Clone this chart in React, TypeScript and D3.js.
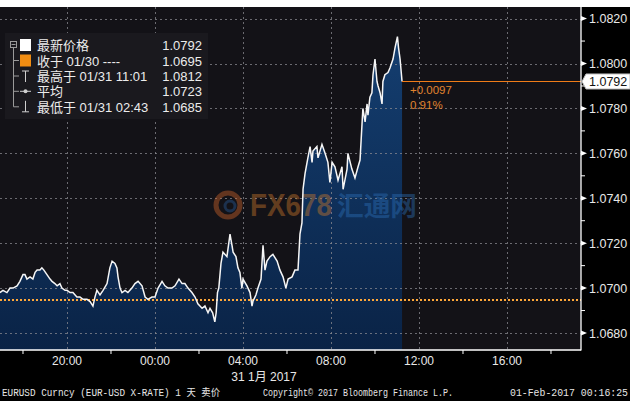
import React from "react";
import * as d3 from "d3";

// ---- data (hours since 2017-01-30 00:00, EURUSD price) ----
const hours = [
  16.95, 17.09, 17.27, 17.41, 17.55, 17.73, 17.86, 18.0, 18.09, 18.18, 18.32, 18.45, 18.55, 18.64, 18.77, 18.86,
  18.95, 19.09, 19.23, 19.32, 19.45, 19.55, 19.68, 19.77, 19.91, 20.0, 20.14, 20.27, 20.45, 20.59, 20.73, 20.91,
  21.05, 21.18, 21.27, 21.36, 21.5, 21.64, 21.82, 21.95, 22.05, 22.18, 22.27, 22.32, 22.41, 22.5, 22.64, 22.77,
  22.95, 23.09, 23.23, 23.41, 23.55, 23.68, 23.86, 24.0, 24.14, 24.32, 24.45, 24.59, 24.77, 24.91, 25.09, 25.23,
  25.36, 25.5, 25.68, 25.82, 25.95, 26.14, 26.27, 26.41, 26.5, 26.62, 26.72, 26.78, 26.84, 26.9, 27.0, 27.09,
  27.27, 27.41, 27.5, 27.55, 27.68, 27.77, 27.86, 27.95, 28.0, 28.18, 28.32, 28.41, 28.45, 28.59, 28.68, 28.82,
  28.91, 29.0, 29.09, 29.23, 29.36, 29.55, 29.68, 29.82, 29.95, 30.05, 30.23, 30.36, 30.5, 30.59, 30.68, 30.73,
  30.82, 30.95, 31.05, 31.14, 31.18, 31.36, 31.41, 31.59, 31.73, 31.86, 31.95, 32.05, 32.18, 32.32, 32.5, 32.55,
  32.73, 32.77, 32.95, 33.09, 33.23, 33.32, 33.41, 33.45, 33.55, 33.64, 33.68, 33.77, 33.86, 33.91, 34.0, 34.09,
  34.14, 34.23, 34.32, 34.36, 34.45, 34.59, 34.68, 34.82, 34.91, 35.02, 35.07, 35.14, 35.23,
];
const prices = [
  1.0698, 1.0699, 1.0698, 1.07, 1.07, 1.0701, 1.0703, 1.0706, 1.0706, 1.0704, 1.0705, 1.0704, 1.0707, 1.0708, 1.0708, 1.0709,
  1.0708, 1.0706, 1.0704, 1.0703, 1.0702, 1.0701, 1.0702, 1.07, 1.0699, 1.0699, 1.0698, 1.0698, 1.0696, 1.0696, 1.0695, 1.0695,
  1.0694, 1.0692, 1.0696, 1.0699, 1.0697, 1.0699, 1.0702, 1.0709, 1.0712, 1.0711, 1.0709, 1.0705, 1.07, 1.0698, 1.0699, 1.0698,
  1.07, 1.0702, 1.0703, 1.0701, 1.0696, 1.0695, 1.0696, 1.0696, 1.07, 1.0703, 1.0701, 1.07, 1.07, 1.0701, 1.0704, 1.0702,
  1.0702, 1.07, 1.0698, 1.0696, 1.0693, 1.0691, 1.0692, 1.0689, 1.0691, 1.0689, 1.0685, 1.0689, 1.0698, 1.07, 1.0711, 1.0716,
  1.0714, 1.0724, 1.0719, 1.0716, 1.0714, 1.0709, 1.0707, 1.07, 1.0704, 1.0701, 1.0698, 1.0692, 1.0694, 1.0697, 1.07, 1.0704,
  1.0719, 1.0708, 1.0712, 1.0714, 1.0715, 1.0712, 1.0708, 1.0705, 1.07, 1.0704, 1.0705, 1.0708, 1.0708, 1.0724, 1.0729, 1.0744,
  1.0751, 1.0758, 1.0763, 1.0756, 1.0761, 1.0763, 1.0758, 1.0764, 1.076, 1.0756, 1.0747, 1.0756, 1.0754, 1.0748, 1.0754, 1.0744,
  1.0753, 1.076, 1.0753, 1.0749, 1.0754, 1.0757, 1.0773, 1.078, 1.0774, 1.0782, 1.0777, 1.0785, 1.0787, 1.0795, 1.0802, 1.0792,
  1.079, 1.0787, 1.0782, 1.0792, 1.0795, 1.0796, 1.0798, 1.0802, 1.0807, 1.0812, 1.0807, 1.0802, 1.0792,
];

const yTickValues = [1.068, 1.07, 1.072, 1.074, 1.076, 1.078, 1.08, 1.082];
const yMinorValues = [1.069, 1.071, 1.073, 1.075, 1.077, 1.079, 1.081];
const domainHours = [16.955, 43.364];
const lastPrice = 1.0792;
const prevClose = 1.0695;
const changeText = ["+0.0097", "0.91%"];

const legendLabels = ["最新价格", "收于 01/30 ----", "最高于 01/31 11:01", "平均", "最低于 01/31 02:43"];
const legendValues = ["1.0792", "1.0695", "1.0812", "1.0723", "1.0685"];

const dateLabel = "31 1月 2017";
const footerLeft = "EURUSD Curncy (EUR-USD X-RATE) 1 天  卖价";
const footerMid = "Copyright© 2017 Bloomberg Finance L.P.";
const footerRight = "01-Feb-2017 00:16:25";

const W = 630;
const H = 408;
const PL = 0, PR = 581, PT = 7, PB = 350;

const base = new Date(2017, 0, 30, 0, 0, 0).getTime();
const toDate = (h: number) => new Date(base + h * 3600000);

const SANS = "'Liberation Sans', Arial, 'Noto Sans CJK SC', sans-serif";
const CJK = "'Liberation Sans', 'Noto Sans CJK SC', sans-serif";

export default function App() {
  const x = d3.scaleTime().domain(domainHours.map(toDate)).range([PL, PR]);
  // y-scale: 1.0680 at 333, 1.0820 at 18.6
  const k = (333 - 18.6) / 0.014;
  const y = d3.scaleLinear().domain([1.068, 1.068 + (333 - PT) / k]).range([333, PT]);

  const data = hours.map((h, i) => ({ t: toDate(h), v: prices[i] }));
  const line = d3.line<{ t: Date; v: number }>().x((d) => x(d.t)).y((d) => y(d.v));
  const area = d3
    .area<{ t: Date; v: number }>()
    .x((d) => x(d.t))
    .y0(PB)
    .y1((d) => y(d.v));

  const majorTicks = x.ticks(d3.timeHour.every(4)!);
  const minorTicks = x
    .ticks(d3.timeHour.every(2)!)
    .filter((d) => d.getHours() % 4 !== 0);
  const fmt = d3.timeFormat("%H:%M");
  const lastX = x(data[data.length - 1].t);
  const yClose = Math.round(y(prevClose)) + 0.5;
  const yLast = Math.round(y(lastPrice)) + 0.5;

  const rowY = [45, 60.5, 76, 91.3, 106.8];

  return (
    <svg
      width={W}
      height={H}
      style={{ position: "absolute", left: 0, top: 0, display: "block" }}
    >
      <defs>
        <linearGradient id="fillg" x1="0" y1="0" x2="0" y2="1">
          <stop offset="0%" stopColor="#143e70" />
          <stop offset="100%" stopColor="#0a2346" />
        </linearGradient>
        <clipPath id="plotclip">
          <rect x={PL} y={PT} width={PR - PL} height={PB - PT} />
        </clipPath>
      </defs>
      <rect x={0} y={0} width={W} height={H} fill="#ffffff" />
      <rect x={0} y={PT} width={W} height={401 - PT} fill="#000000" />
      <rect x={PL} y={PT} width={PR - PL} height={PB - PT} fill="#131217" />

      <g clipPath="url(#plotclip)">
        <path d={area(data) || ""} fill="url(#fillg)" />
        {yTickValues.map((v) => (
          <line key={"gy" + v} x1={PL} x2={PR} y1={Math.round(y(v)) + 0.5} y2={Math.round(y(v)) + 0.5} stroke="#8a8a90" strokeOpacity={0.75} strokeDasharray="2,3" shapeRendering="crispEdges" />
        ))}
        {majorTicks.map((t) => (
          <line key={"gx" + t.getTime()} x1={Math.round(x(t)) + 0.5} x2={Math.round(x(t)) + 0.5} y1={PT} y2={PB} stroke="#8a8a90" strokeOpacity={0.75} strokeDasharray="2,3" shapeRendering="crispEdges" />
        ))}

        {/* watermark */}
        <g opacity={0.42}>
          <circle cx={228} cy={205} r={12} fill="none" stroke="#d2652a" strokeWidth={5} />
          <circle cx={230} cy={206} r={5} fill="none" stroke="#2a5d9a" strokeWidth={3} />
          <text x={250} y={216} fontFamily={SANS} fontWeight="bold" fontSize={31} fill="#d07a2a" textLength={82} lengthAdjust="spacingAndGlyphs">FX678</text>
          <text x={337} y={216} fontFamily="'Noto Sans CJK SC', sans-serif" fontWeight="bold" fontSize={27} fill="#2c6fb8" textLength={80} lengthAdjust="spacingAndGlyphs">汇通网</text>
        </g>

        <line x1={PL} x2={PR} y1={yClose} y2={yClose} stroke="#ffa83a" strokeWidth={2} strokeDasharray="2,2" shapeRendering="crispEdges" />
        <path d={line(data) || ""} fill="none" stroke="#f6f6f6" strokeWidth={1.5} />
        <line x1={lastX} x2={PR} y1={yLast} y2={yLast} stroke="#f07c18" strokeWidth={1.4} shapeRendering="crispEdges" />
      </g>

      <text x={410} y={94} fontFamily={SANS} fontSize={11.5} fill="#e0842f">{changeText[0]}</text>
      <text x={410} y={109} fontFamily={SANS} fontSize={11.5} fill="#e0842f">{changeText[1]}</text>

      {/* axes lines */}
      <line x1={PR} x2={PR} y1={PT} y2={PB + 0.5} stroke="#ffffff" strokeWidth={1.3} />
      <line x1={PL} x2={PR} y1={PB} y2={PB} stroke="#ffffff" strokeWidth={1.3} />

      {/* right axis */}
      {yTickValues.map((v) => (
        <g key={"yt" + v}>
          <path d={`M${PR},${y(v) - 2.5}L${PR + 6},${y(v)}L${PR},${y(v) + 2.5}Z`} fill="#ffffff" />
          <text x={589} y={y(v) + 4.5} fontFamily={SANS} fontSize={12.5} fill="#e8e8e8">{v.toFixed(4)}</text>
        </g>
      ))}
      {yMinorValues.map((v) => (
        <line key={"ym" + v} x1={PR} x2={PR + 4} y1={y(v)} y2={y(v)} stroke="#ffffff" />
      ))}
      <path
        d={`M${PR + 1},${y(lastPrice)}L${PR + 5},${y(lastPrice) - 7.5}L${W},${y(lastPrice) - 7.5}L${W},${y(lastPrice) + 7.5}L${PR + 5},${y(lastPrice) + 7.5}Z`}
        fill="#ffffff"
        stroke="#bdbdbd"
      />
      <text x={589} y={y(lastPrice) + 4.5} fontFamily={SANS} fontSize={12.5} fill="#111111">{lastPrice.toFixed(4)}</text>

      {/* bottom axis */}
      {minorTicks.map((t) => (
        <line key={"xm" + t.getTime()} x1={x(t)} x2={x(t)} y1={PB} y2={PB + 4} stroke="#ffffff" />
      ))}
      {majorTicks.map((t) => (
        <text key={"xl" + t.getTime()} x={x(t)} y={365} textAnchor="middle" fontFamily={SANS} fontSize={12} fill="#e8e8e8">
          {fmt(t)}
        </text>
      ))}
      <text x={264} y={381} textAnchor="middle" fontFamily={CJK} fontSize={12} fill="#e8e8e8">{dateLabel}</text>

      {/* footer */}
      <text x={2} y={396} fontFamily="'Liberation Mono', 'Noto Sans CJK SC', monospace" fontSize={10} fill="#e6e6e6" textLength={218} lengthAdjust="spacingAndGlyphs">{footerLeft}</text>
      <text x={263} y={396} fontFamily="'Liberation Mono', monospace" fontSize={10} fill="#e6e6e6" textLength={190} lengthAdjust="spacingAndGlyphs">{footerMid}</text>
      <text x={628} y={396} textAnchor="end" fontFamily="'Liberation Mono', monospace" fontSize={10} fill="#e6e6e6" textLength={118} lengthAdjust="spacingAndGlyphs">{footerRight}</text>

      {/* legend */}
      <rect x={5} y={33} width={203} height={86} fill="#1a191e" />
      <g stroke="#9a9a9a" strokeWidth={1} fill="none">
        <rect x={10.5} y={41.5} width={6} height={6} />
        <line x1={11.5} x2={15.5} y1={44.5} y2={44.5} />
        <line x1={13.5} x2={13.5} y1={47.5} y2={rowY[4]} />
        {rowY.slice(1).map((ry) => (
          <line key={"br" + ry} x1={13.5} x2={19} y1={ry} y2={ry} />
        ))}
      </g>
      <rect x={20} y={39} width={11} height={12} fill="#ffffff" />
      <rect x={20} y={rowY[1] - 6} width={11} height={12} fill="#f08c12" />
      <g stroke="#cfcfcf" strokeWidth={1}>
        <line x1={25.5} x2={25.5} y1={rowY[2] - 5} y2={rowY[2] + 6} />
        <line x1={22} x2={29} y1={rowY[2] - 5} y2={rowY[2] - 5} />
        <line x1={20} x2={31} y1={rowY[3]} y2={rowY[3]} />
        <line x1={25.5} x2={25.5} y1={rowY[4] - 6} y2={rowY[4] + 5} />
        <line x1={22} x2={29} y1={rowY[4] + 5} y2={rowY[4] + 5} />
      </g>
      <circle cx={25.5} cy={rowY[3]} r={2} fill="#cfcfcf" />
      {legendLabels.map((lab, i) => (
        <text key={"ll" + i} x={37} y={rowY[i] + 5} fontFamily={CJK} fontSize={13} fill="#ececec">{lab}</text>
      ))}
      {legendValues.map((v, i) => (
        <text key={"lv" + i} x={202} y={rowY[i] + 5} textAnchor="end" fontFamily={SANS} fontSize={13} fill="#ececec">{v}</text>
      ))}
    </svg>
  );
}
